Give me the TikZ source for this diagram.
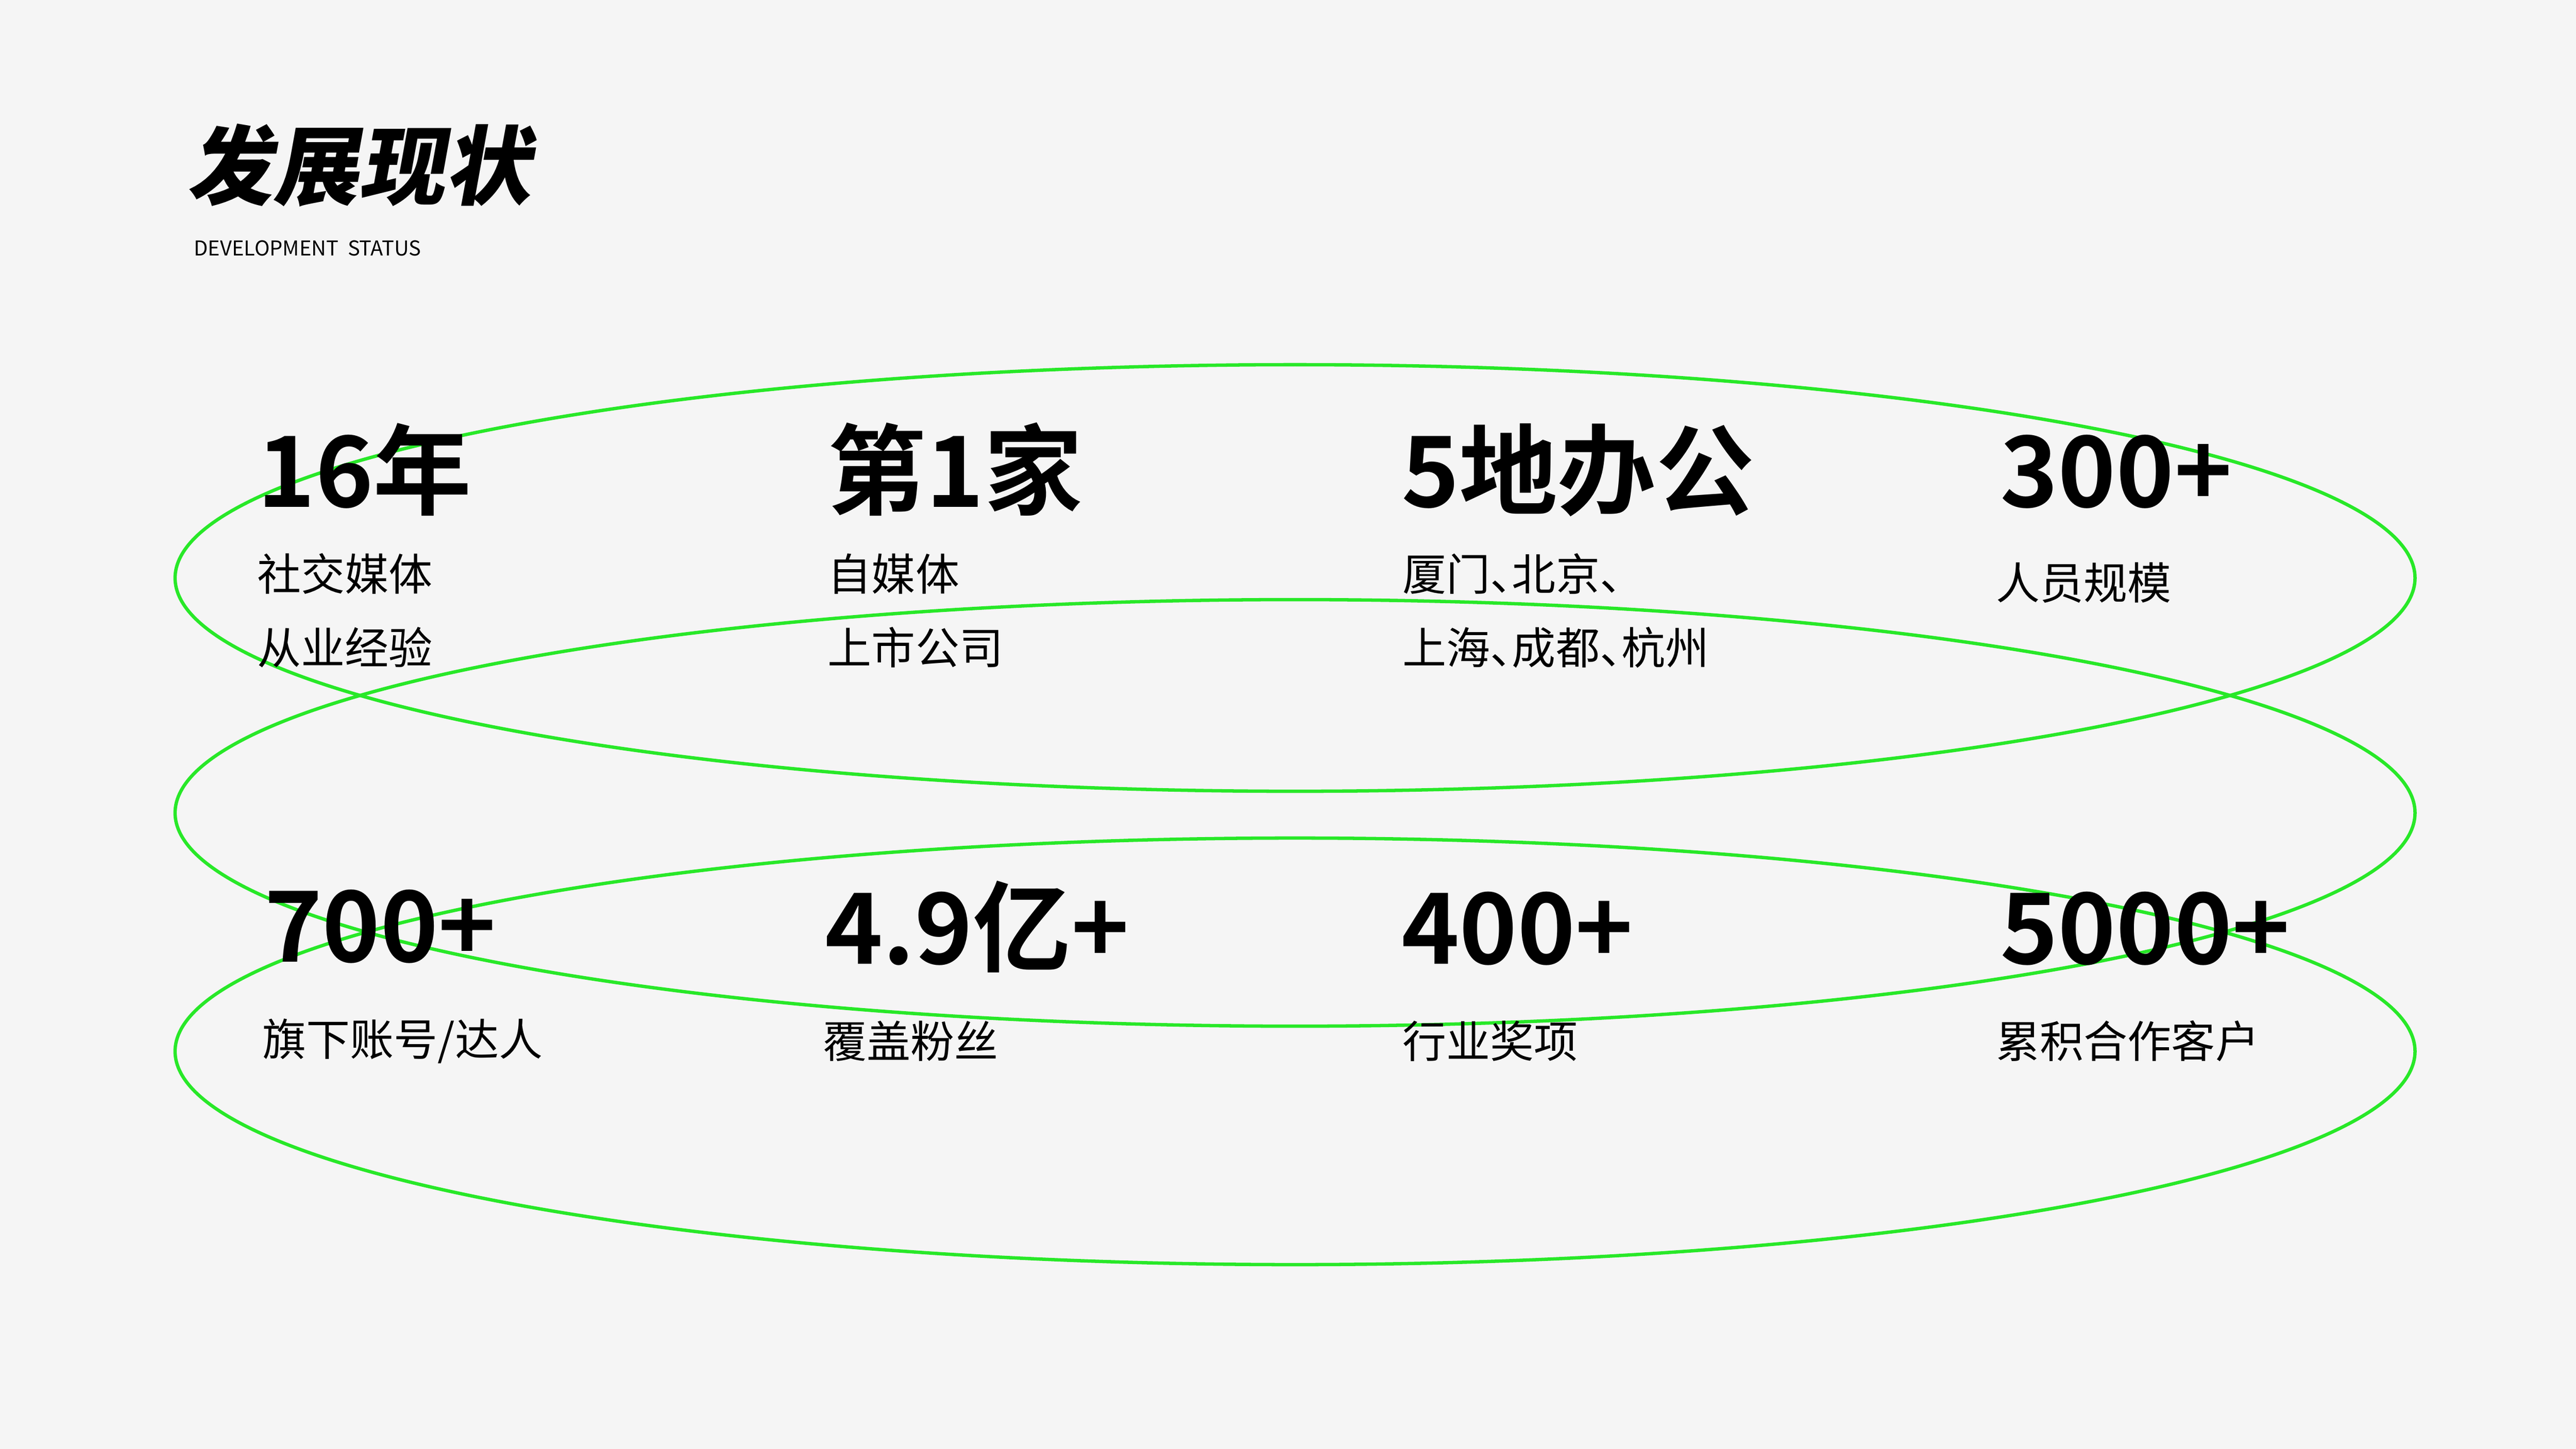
\documentclass[tikz,border=0pt]{standalone}
\usepackage{fontspec}
\setmainfont{Noto Sans CJK SC}[BoldFont=* Bold]
\newfontfamily\titlefont{Noto Sans CJK SC Black}[FakeSlant=0.18]
\usetikzlibrary{calc}
\definecolor{paper}{RGB}{245,245,245}
\definecolor{ringgreen}{RGB}{40,232,40}
\newcommand{\dun}{\makebox[0.5em][l]{、}}

\begin{document}
\begin{tikzpicture}[
 ring/.style={ringgreen, line width=0.95pt},
 big/.style={anchor=base west, inner sep=0, font=\fontsize{27.8}{30}\selectfont\bfseries},
 small/.style={anchor=west, inner sep=0, font=\fontsize{12.4}{14}\selectfont}]
\fill[paper] (0,0) rectangle (25.6,14.4);
\coordinate (O) at (0,0);
\useasboundingbox (O) rectangle (25.6,14.4);
% title
\node[anchor=west, inner sep=0, font=\titlefont\fontsize{24.3}{26}\selectfont] (title) at (1.85,12.755) {发展现状};
\node[anchor=west, inner sep=0, font=\fontsize{5.8}{7}\selectfont] (subtitle) at (1.92,11.935) {DEVELOPMENT\ \ STATUS};
% rings
\foreach \y in {8.655,6.32,3.95} {
 \draw[ring] (12.87,\y) ellipse[x radius=11.13, y radius=2.12];
}
% first row
\node[big] (years) at (2.55,9.36) {16年};
\node[big] (first) at (8.22,9.36) {第1家};
\node[big] (office) at (13.92,9.36) {5地办公};
\node[big] (staff) at (19.87,9.36) {300+};
\node[small] (yearsA) at (2.55,8.695) {社交媒体};
\node[small] (yearsB) at (2.55,7.965) {从业经验};
\node[small] (firstA) at (8.22,8.695) {自媒体};
\node[small] (firstB) at (8.22,7.965) {上市公司};
\node[small] (officeA) at (13.93,8.695) {厦门\dun 北京\dun};
\node[small] (officeB) at (13.93,7.965) {上海\dun 成都\dun 杭州};
\node[small] (staffA) at (19.83,8.61) {人员规模};
% second row
\node[big] (accounts) at (2.62,4.84) {700+};
\node[big] (fans) at (8.19,4.82) {4.9亿+};
\node[big] (awards) at (13.92,4.82) {400+};
\node[big] (clients) at (19.87,4.82) {5000+};
\node[small] (accountsA) at (2.6,4.05) {旗下账号/达人};
\node[small] (fansA) at (8.17,4.05) {覆盖粉丝};
\node[small] (awardsA) at (13.93,4.05) {行业奖项};
\node[small] (clientsA) at (19.83,4.05) {累积合作客户};
\end{tikzpicture}
\end{document}
